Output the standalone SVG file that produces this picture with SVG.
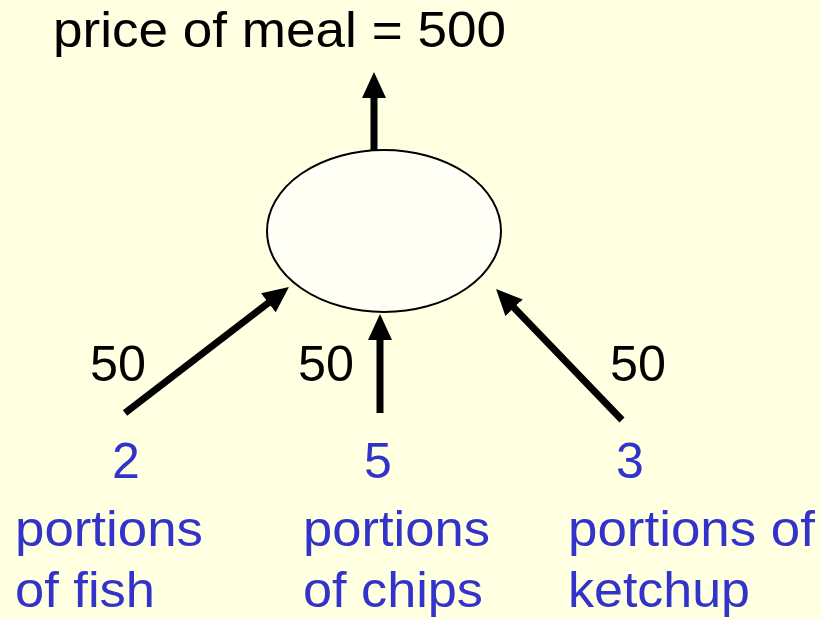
<svg xmlns="http://www.w3.org/2000/svg" width="821" height="619" viewBox="0 0 821 619">
<style>
text{font-family:"Liberation Sans",Arial,sans-serif;font-size:50px}
.k{fill:#000}
.b{fill:#3333CC}
.c{stroke:#000;stroke-width:7;fill:none;marker-end:url(#ah)}
</style>
<defs>
<marker id="ah" markerUnits="userSpaceOnUse" markerWidth="26" markerHeight="24" viewBox="0 0 26 24" refX="6" refY="12" orient="auto">
<path d="M0,0 L26,12 L0,24 z" fill="#000"/>
</marker>
</defs>
<rect width="821" height="619" fill="#FFFFE1"/>
<g id="title"><text class="k" x="53" y="47" textLength="453" lengthAdjust="spacingAndGlyphs">price of meal = 500</text></g>
<g id="node"><ellipse cx="384" cy="231" rx="117" ry="81" fill="#FFFFF5" stroke="#000" stroke-width="2"/></g>
<g id="connectors">
<line class="c" x1="374" y1="150" x2="374" y2="92"/>
<line class="c" x1="125" y1="413" x2="273.1" y2="299.2"/>
<line class="c" x1="380" y1="413" x2="380" y2="334"/>
<line class="c" x1="622" y1="420" x2="509.9" y2="303.4"/>
</g>
<g id="weights">
<text class="k" x="90" y="381" textLength="56" lengthAdjust="spacingAndGlyphs">50</text>
<text class="k" x="298" y="381" textLength="56" lengthAdjust="spacingAndGlyphs">50</text>
<text class="k" x="610" y="381" textLength="56" lengthAdjust="spacingAndGlyphs">50</text>
</g>
<g id="fish">
<text class="b" x="112" y="478">2</text>
<text class="b" x="15" y="546" textLength="188" lengthAdjust="spacingAndGlyphs">portions</text>
<text class="b" x="15" y="607" textLength="140" lengthAdjust="spacingAndGlyphs">of fish</text>
</g>
<g id="chips">
<text class="b" x="364" y="478">5</text>
<text class="b" x="303" y="546" textLength="187" lengthAdjust="spacingAndGlyphs">portions</text>
<text class="b" x="303" y="607" textLength="180" lengthAdjust="spacingAndGlyphs">of chips</text>
</g>
<g id="ketchup">
<text class="b" x="616" y="478">3</text>
<text class="b" x="568" y="546" textLength="247" lengthAdjust="spacingAndGlyphs">portions of</text>
<text class="b" x="568" y="607" textLength="182" lengthAdjust="spacingAndGlyphs">ketchup</text>
</g>
</svg>
